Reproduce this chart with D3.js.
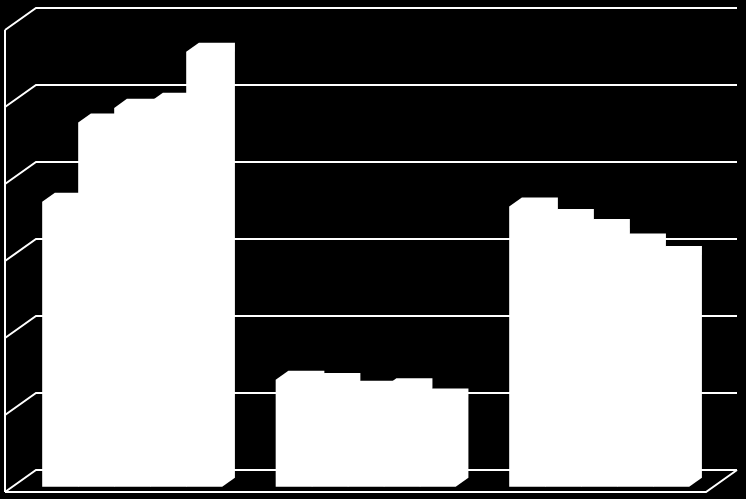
<!DOCTYPE html>
<html>
<head>
<meta charset="utf-8">
<script src="https://cdn.jsdelivr.net/npm/d3@7"></script>
<style>
  body { margin: 0; background: #000; }
</style>
</head>
<body>
<div id="chart"></div>
<script>
// Data (no axis labels are shown, units are gridline steps of 10)
const categories = ["Group 1", "Group 2", "Group 3"];
const seriesNames = ["S1", "S2", "S3", "S4", "S5"];
const s1 = [37.0, 13.9, 36.4];
const s2 = [47.3, 13.6, 34.9];
const s3 = [49.2, 12.6, 33.6];
const s4 = [50.0, 12.9, 31.7];
const s5 = [56.5, 11.6, 30.1];
const yTicks = [0, 10, 20, 30, 40, 50, 60];

const seriesValues = [s1, s2, s3, s4, s5];
const data = categories.map((c, i) => ({
   category: c,
   values: seriesNames.map((s, j) => ({ series: s, value: seriesValues[j][i] }))
}));

// Set up dimensions
const width = 746;
const height = 499;

// Oblique 3D projection: depth 0 = front, depth 1 = back wall
const depthX = 31;
const depthY = -22;
const proj = (x, y, z) => [x + depthX * z, y + depthY * z];

// Create SVG element
const svg = d3.select("#chart")
   .append("svg")
   .attr("width", width)
   .attr("height", height)
   .style("background", "#000");

// Define scales (front plane)
const y = d3.scaleLinear()
   .domain([0, 60])
   .range([492, 30]);

const floorLeft = 5;
const floorRight = 706;

const x0 = d3.scaleBand()
   .domain(categories)
   .range([8, 708.5])
   .paddingInner(0.229)
   .paddingOuter(0.1145);

const x1 = d3.scaleBand()
   .domain(seriesNames)
   .range([0, x0.bandwidth()])
   .padding(0);

const line = d3.line();

// Gridlines: left wall slant + back wall line
const grid = svg.append("g").attr("class", "grid");

grid.selectAll("path")
   .data(yTicks)
   .enter().append("path")
   .attr("d", t => line([
      proj(floorLeft, y(t), 0),
      proj(floorLeft, y(t), 1),
      proj(floorRight, y(t), 1)
   ]))
   .attr("fill", "none")
   .attr("stroke", "#fff")
   .attr("stroke-width", 2);

// Left wall front edge
grid.append("path")
   .attr("d", line([proj(floorLeft, y(0), 0), proj(floorLeft, y(60), 0)]))
   .attr("fill", "none")
   .attr("stroke", "#fff")
   .attr("stroke-width", 2);

// Floor front and right edges
grid.append("path")
   .attr("d", line([
      proj(floorLeft, y(0), 0),
      proj(floorRight, y(0), 0),
      proj(floorRight, y(0), 1)
   ]))
   .attr("fill", "none")
   .attr("stroke", "#fff")
   .attr("stroke-width", 2);

// Bars: prism silhouettes sitting between depth zFront and zBack
const zFront = 0.24;
const zBack = 0.65;

function prism(x, w, v) {
   const yb = y(0), yt = y(v);
   return line([
      proj(x, yb, zFront),
      proj(x, yt, zFront),
      proj(x, yt, zBack),
      proj(x + w, yt, zBack),
      proj(x + w, yb, zBack),
      proj(x + w, yb, zFront)
   ]) + "Z";
}

const groups = svg.selectAll(".group")
   .data(data)
   .enter().append("g")
   .attr("class", "group");

groups.selectAll("path")
   .data(d => d.values.map(v => ({ ...v, category: d.category })))
   .enter().append("path")
   .attr("d", d => prism(x0(d.category) + x1(d.series), x1.bandwidth(), d.value))
   .attr("fill", "#fff");
</script>
</body>
</html>
